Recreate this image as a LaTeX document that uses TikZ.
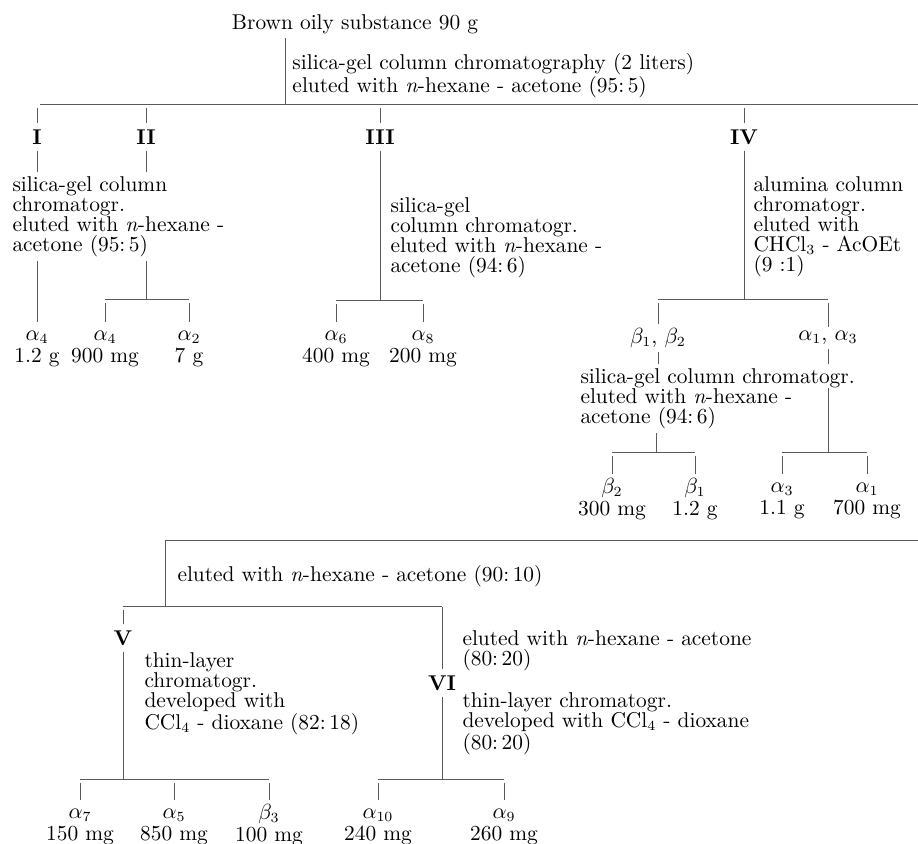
\documentclass[tikz,border=0pt]{standalone}
\usepackage{amsmath}
\usepackage{tikz}

\newcommand{\yieldlbl}[2]{\strut$#1$\\#2}

\begin{document}
\begin{tikzpicture}[x=0.5pt, y=-0.5pt, line width=0.5pt, color=black!65]
        \tikzstyle{every node}=[inner sep=2pt, text=black, font=\fontsize{10.7}{10}\selectfont]
        \tikzstyle{num}=[inner sep=3pt, font=\fontsize{10.7}{10}\selectfont\bfseries]
        \tikzstyle{txt}=[anchor=north west, align=left]
        \tikzstyle{yld}=[anchor=north, align=center]
        \tikzstyle{gap}=[shorten <=1.5pt]

        \useasboundingbox (0,0) rectangle (918,844);

        \node (src) at (355,24) {Brown oily substance 90 g};
        \node (el 0) [txt] at (288,49) {silica-gel column chromatography (2 liters)\\eluted with \textit{n}-hexane - acetone (95:\,5)};
        \coordinate (j 0) at (285,105);
        \coordinate (w 0) at (40,105);
        \coordinate (e 0) at (918,105);

        \node (I)   [num] at (37,137)  {I};
        \node (II)  [num] at (146,137) {II};
        \node (III) [num] at (380,137) {III};
        \node (IV)  [num] at (744,137) {IV};

        \node (sg 1) [txt] at (8,172) {silica-gel column\\chromatogr.\\eluted with \textit{n}-hexane -\\acetone (95:\,5)};
        \node (sg 3) [txt] at (386,193) {silica-gel\\column chromatogr.\\eluted with \textit{n}-hexane -\\acetone (94:\,6)};
        \node (al 4) [txt] at (749,172) {alumina column\\chromatogr.\\eluted with\\CHCl$_3$ - AcOEt\\(9 :1)};

        \coordinate (j 2) at (146,300);
        \coordinate (j 3) at (380,301);
        \coordinate (j 4) at (744,300);

        \node (a4 1) [yld] at (37,322)  {\yieldlbl{\alpha_4}{1.2 g}};
        \node (a4 2) [yld] at (105,322) {\yieldlbl{\alpha_4}{900 mg}};
        \node (a2)   [yld] at (189,322) {\yieldlbl{\alpha_2}{7 g}};
        \node (a6)   [yld] at (336,322) {\yieldlbl{\alpha_6}{400 mg}};
        \node (a8)   [yld] at (423,322) {\yieldlbl{\alpha_8}{200 mg}};

        \node (b12) at (658,338) {$\beta_1$, $\beta_2$};
        \node (a13) at (828,338) {$\alpha_1$, $\alpha_3$};
        \node (sg b) [txt] at (576,364) {silica-gel column chromatogr.\\eluted with \textit{n}-hexane -\\acetone (94:\,6)};
        \coordinate (k a) at (828,388);
        \coordinate (j b) at (656,453);
        \coordinate (j a) at (828,453);

        \node (b2) [yld] at (612,474) {\yieldlbl{\beta_2}{300 mg}};
        \node (b1) [yld] at (695,474) {\yieldlbl{\beta_1}{1.2 g}};
        \node (a3) [yld] at (782,474) {\yieldlbl{\alpha_3}{1.1 g}};
        \node (a1) [yld] at (867,474) {\yieldlbl{\alpha_1}{700 mg}};

        \coordinate (s w) at (165,541);
        \coordinate (s e) at (918,541);
        \node (el 5) [txt] at (173,561) {eluted with \textit{n}-hexane - acetone (90:\,10)};
        \coordinate (j 5) at (165,607);

        \node (V)  [num] at (123,638) {V};
        \node (VI) [num] at (442,683) {VI};
        \node (tl 5) [txt] at (140,648) {thin-layer\\chromatogr.\\developed with\\CCl$_4$ - dioxane (82:\,18)};
        \node (el 6) [txt] at (458,626) {eluted with \textit{n}-hexane - acetone\\(80:\,20)};
        \node (tl 6) [txt] at (458,688) {thin-layer chromatogr.\\developed with CCl$_4$ - dioxane\\(80:\,20)};
        \coordinate (j v) at (123,780);
        \coordinate (j vi) at (442,780);

        \node (a7)  [yld] at (80,800)  {\yieldlbl{\alpha_7}{150 mg}};
        \node (a5)  [yld] at (174,800) {\yieldlbl{\alpha_5}{850 mg}};
        \node (b3)  [yld] at (269,800) {\yieldlbl{\beta_3}{100 mg}};
        \node (a10) [yld] at (378,800) {\yieldlbl{\alpha_{10}}{240 mg}};
        \node (a9)  [yld] at (504,800) {\yieldlbl{\alpha_9}{260 mg}};

        \draw (src.south -| j 0) -- (j 0);
        \draw (w 0) -- (e 0);
        \draw[gap] (I |- j 0) -- (I);
        \draw[gap] (II |- j 0) -- (II);
        \draw[gap] (III |- j 0) -- (III);
        \draw[gap] (IV |- j 0) -- (IV);

        \draw (I) -- (I |- sg 1.north);
        \draw (sg 1.south -| I) -- (a4 1);
        \draw (II) -- (II |- sg 1.north);
        \draw (sg 1.south -| II) -- (j 2);
        \draw (a4 2 |- j 2) -- (a2 |- j 2);
        \draw[gap] (a4 2 |- j 2) -- (a4 2);
        \draw[gap] (a2 |- j 2) -- (a2);

        \draw (III) -- (j 3);
        \draw (a6 |- j 3) -- (a8 |- j 3);
        \draw[gap] (a6 |- j 3) -- (a6);
        \draw[gap] (a8 |- j 3) -- (a8);

        \draw (IV) -- (j 4);
        \draw (b12 |- j 4) -- (a13 |- j 4);
        \draw[gap] (b12 |- j 4) -- (b12);
        \draw[gap] (a13 |- j 4) -- (a13);

        \draw (b12) -- (b12 |- sg b.north);
        \draw (sg b.south -| j b) -- (j b);
        \draw (b2 |- j b) -- (b1 |- j b);
        \draw[gap] (b2 |- j b) -- (b2);
        \draw[gap] (b1 |- j b) -- (b1);

        \draw (a13) -- (a13 |- sg b.north);
        \draw (k a) -- (j a);
        \draw (a3 |- j a) -- (a1 |- j a);
        \draw[gap] (a3 |- j a) -- (a3);
        \draw[gap] (a1 |- j a) -- (a1);

        \draw (s w) -- (s e);
        \draw (s w) -- (j 5);
        \draw (V |- j 5) -- (VI |- j 5);
        \draw[gap] (V |- j 5) -- (V);
        \draw (VI |- j 5) -- (VI);

        \draw (V) -- (j v);
        \draw (a7 |- j v) -- (b3 |- j v);
        \draw[gap] (a7 |- j v) -- (a7);
        \draw[gap] (a5 |- j v) -- (a5);
        \draw[gap] (b3 |- j v) -- (b3);

        \draw (VI) -- (j vi);
        \draw (a10 |- j vi) -- (a9 |- j vi);
        \draw[gap] (a10 |- j vi) -- (a10);
        \draw[gap] (a9 |- j vi) -- (a9);

    \end{tikzpicture}
\end{document}
